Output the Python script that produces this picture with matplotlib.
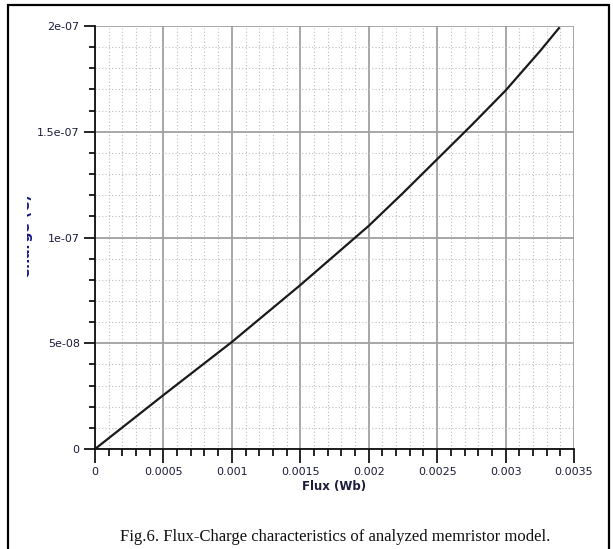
import matplotlib
matplotlib.use("Agg")
import matplotlib.pyplot as plt
from matplotlib.ticker import MultipleLocator
from matplotlib.patches import Rectangle
from matplotlib.transforms import Bbox, TransformedBbox

# Data
flux = [0, 0.0005, 0.001, 0.0015, 0.002, 0.00225, 0.0025, 0.00275, 0.003, 0.00325, 0.00339]
charge = [0, 2.55e-8, 5.06e-8, 7.75e-8, 1.055e-7, 1.21e-7, 1.37e-7, 1.53e-7, 1.695e-7, 1.88e-7, 1.99e-7]
x_ticks = [0, 0.0005, 0.001, 0.0015, 0.002, 0.0025, 0.003, 0.0035]
x_labels = ["0", "0.0005", "0.001", "0.0015", "0.002", "0.0025", "0.003", "0.0035"]
y_ticks = [0, 5e-8, 1e-7, 1.5e-7, 2e-7]
y_labels = ["0", "5e-08", "1e-07", "1.5e-07", "2e-07"]

text_col = "#1c1c3c"

fig = plt.figure(figsize=(6.13, 5.49), dpi=100)
ax = fig.add_axes([95 / 613, 1 - 449 / 549, (574 - 95) / 613, (449 - 26) / 549])

ax.plot(flux, charge, color="#1a1a1a", lw=1.6)

ax.set_xlim(0, 0.0035)
ax.set_ylim(0, 2e-7)
ax.set_xticks(x_ticks)
ax.set_xticklabels(x_labels)
ax.set_yticks(y_ticks)
ax.set_yticklabels(y_labels)
ax.xaxis.set_minor_locator(MultipleLocator(0.0001))
ax.yaxis.set_minor_locator(MultipleLocator(1e-8))

ax.grid(which="major", color="#a0a0a0", lw=1.3, ls="-")
ax.grid(which="minor", color="#bcbcbc", lw=0.8, ls=(0, (1, 2)))
ax.set_axisbelow(True)

for s in ["top", "right"]:
    ax.spines[s].set_visible(False)
for s in ["left", "bottom"]:
    ax.spines[s].set_linewidth(1.3)
    ax.spines[s].set_color("#101010")

ax.tick_params(axis="y", which="major", length=8, width=1.2, pad=3, labelsize=8, labelcolor=text_col)
ax.tick_params(axis="y", which="minor", length=4.5, width=1.2)
ax.tick_params(axis="x", which="major", length=10, width=1.2, pad=3, labelsize=8, labelcolor=text_col)
ax.tick_params(axis="x", which="minor", length=5, width=1.2)

ax.set_xlabel("Flux (Wb)", fontsize=8.5, fontweight="bold", color=text_col, labelpad=2)

# clipped y label (only a sliver is visible in the reference)
yl = fig.text(26 / 613, 1 - 236 / 549, "Charge (C)", rotation=90, ha="center", va="center",
              fontsize=10, fontweight="bold", color="#14148a")
yl.set_clip_box(TransformedBbox(Bbox([[26.5 / 613, 0], [40 / 613, 1]]), fig.transFigure))
yl.set_clip_on(True)

fig.text(335 / 613, 1 - 537 / 549, "Fig.6. Flux-Charge characteristics of analyzed memristor model.",
         ha="center", va="center", fontsize=12, family="Liberation Serif", color="#111111")

fig.patches.append(Rectangle((8 / 613, -0.01), (609 - 8) / 613, 1 - 5 / 549 + 0.01,
                             transform=fig.transFigure, fill=False, lw=1.6, ec="black"))

fig.savefig("out.png", dpi=100)
